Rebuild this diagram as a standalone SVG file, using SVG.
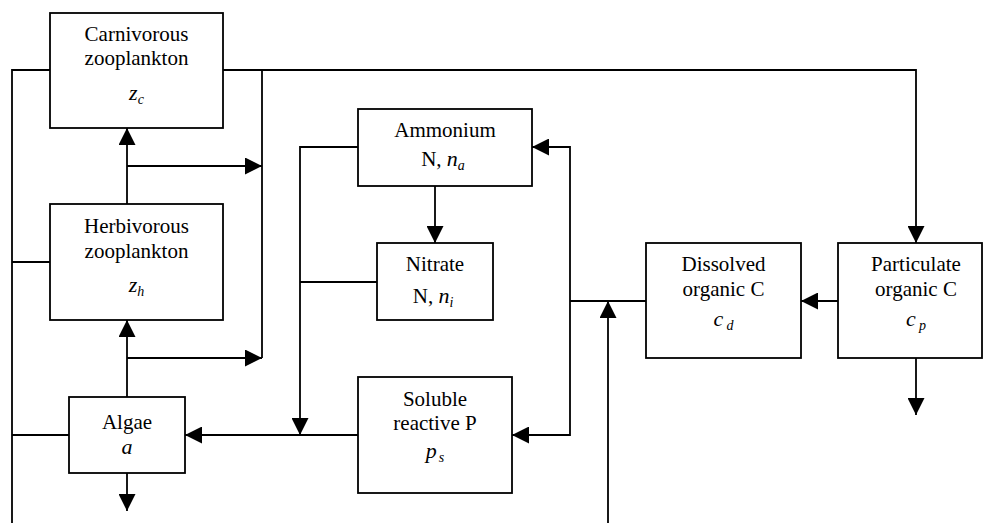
<svg xmlns="http://www.w3.org/2000/svg" width="983" height="525" viewBox="0 0 983 525">
<style>
.box{fill:#fff;stroke:#000;stroke-width:1.8}
.ln{fill:none;stroke:#000;stroke-width:1.8}
text{font-family:"Liberation Serif","Times New Roman",serif;font-size:21px;fill:#000;text-anchor:middle}
.v{font-style:italic;font-size:22px}
.s{font-style:italic;font-size:14px}
</style>
<defs>
<marker id="ah" markerUnits="userSpaceOnUse" markerWidth="17" markerHeight="17" refX="17" refY="8.5" orient="auto" viewBox="0 0 17 17">
<path d="M0,0 L17,8.5 L0,17 z" fill="#000"/>
</marker>
</defs>
<rect width="983" height="525" fill="#fff"/>
<g id="connectors">
<path class="ln" d="M127,397 L127,320" marker-end="url(#ah)"/>
<path class="ln" d="M127,358 L262,358" marker-end="url(#ah)"/>
<path class="ln" d="M127,204 L127,128" marker-end="url(#ah)"/>
<path class="ln" d="M127,166 L262,166" marker-end="url(#ah)"/>
<path class="ln" d="M262,70 L262,358"/>
<path class="ln" d="M223,70 L916,70 L916,243" marker-end="url(#ah)"/>
<path class="ln" d="M50,70 L12,70 L12,523"/>
<path class="ln" d="M50,262 L12,262"/>
<path class="ln" d="M69,435 L12,435"/>
<path class="ln" d="M127,473 L127,511" marker-end="url(#ah)"/>
<path class="ln" d="M358,435 L185,435" marker-end="url(#ah)"/>
<path class="ln" d="M358,147 L300,147 L300,435" marker-end="url(#ah)"/>
<path class="ln" d="M377,282 L300,282"/>
<path class="ln" d="M435,186 L435,243" marker-end="url(#ah)"/>
<path class="ln" d="M608,523 L608,301" marker-end="url(#ah)"/>
<path class="ln" d="M646,301 L570,301"/>
<path class="ln" d="M570,301 L570,147 L532,147" marker-end="url(#ah)"/>
<path class="ln" d="M570,301 L570,435 L512,435" marker-end="url(#ah)"/>
<path class="ln" d="M838,301 L801,301" marker-end="url(#ah)"/>
<path class="ln" d="M916,358 L916,415" marker-end="url(#ah)"/>
</g>
<g id="carnivorous">
<rect class="box" x="50" y="13" width="173" height="115"/>
<text x="136.5" y="41">Carnivorous</text>
<text x="136.5" y="65">zooplankton</text>
<text x="136.5" y="100"><tspan class="v">z</tspan><tspan class="s" dy="4">c</tspan></text>
</g>
<g id="herbivorous">
<rect class="box" x="50" y="204" width="173" height="116"/>
<text x="136.5" y="233">Herbivorous</text>
<text x="136.5" y="258">zooplankton</text>
<text x="136.5" y="292"><tspan class="v">z</tspan><tspan class="s" dy="4">h</tspan></text>
</g>
<g id="algae">
<rect class="box" x="69" y="397" width="116" height="76"/>
<text x="127" y="429">Algae</text>
<text x="127" y="454"><tspan class="v">a</tspan></text>
</g>
<g id="ammonium">
<rect class="box" x="358" y="109" width="174" height="77"/>
<text x="445" y="137">Ammonium</text>
<text x="443" y="166">N, <tspan class="v">n</tspan><tspan class="s" dy="4">a</tspan></text>
</g>
<g id="nitrate">
<rect class="box" x="377" y="243" width="116" height="77"/>
<text x="435" y="271">Nitrate</text>
<text x="433" y="303">N, <tspan class="v">n</tspan><tspan class="s" dy="4">i</tspan></text>
</g>
<g id="soluble">
<rect class="box" x="358" y="377" width="154" height="116"/>
<text x="435" y="406">Soluble</text>
<text x="435" y="430">reactive P</text>
<text x="435" y="458"><tspan class="v" font-size="24">p</tspan><tspan class="s" dy="4" dx="2">s</tspan></text>
</g>
<g id="dissolved">
<rect class="box" x="646" y="243" width="155" height="115"/>
<text x="723.5" y="271">Dissolved</text>
<text x="723.5" y="296">organic C</text>
<text x="723.5" y="326"><tspan class="v" font-size="24">c</tspan><tspan class="s" dy="4" dx="3">d</tspan></text>
</g>
<g id="particulate">
<rect class="box" x="838" y="243" width="144" height="115"/>
<text x="916" y="271">Particulate</text>
<text x="916" y="296">organic C</text>
<text x="916" y="326"><tspan class="v" font-size="24">c</tspan><tspan class="s" dy="4" dx="3">p</tspan></text>
</g>
</svg>
